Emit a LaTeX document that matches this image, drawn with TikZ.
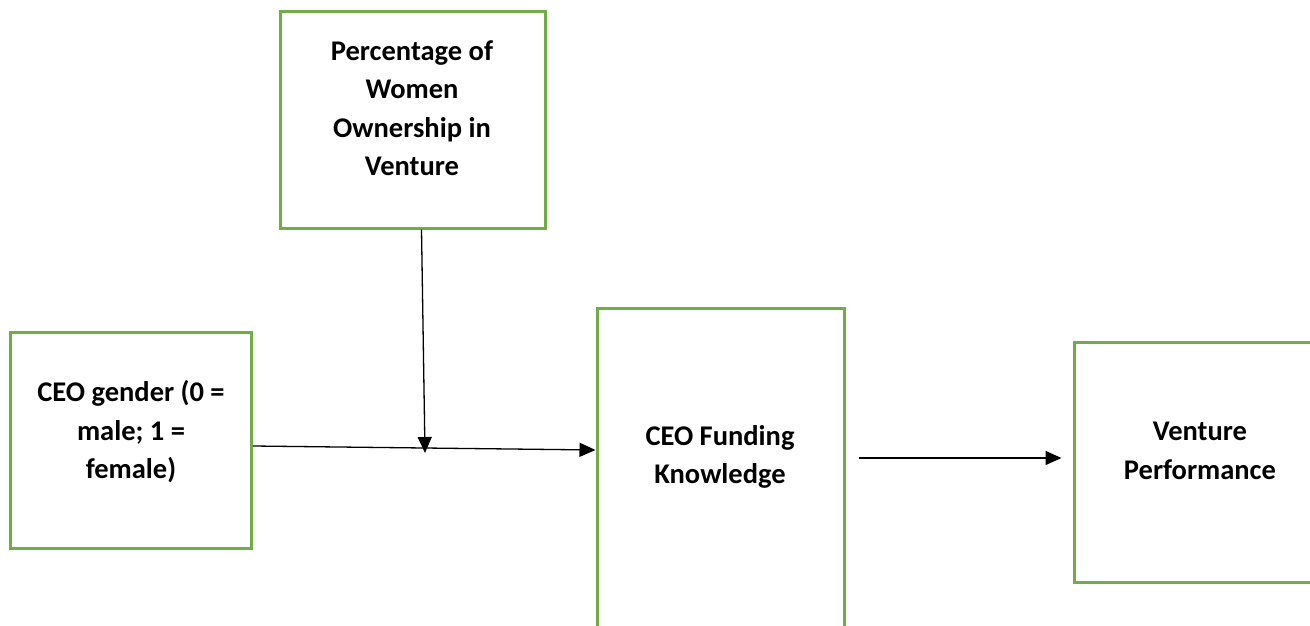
\documentclass[tikz,border=0pt]{standalone}
\usepackage{fontspec}
\setmainfont{Carlito}
\usetikzlibrary{arrows.meta}
\definecolor{boxgreen}{RGB}{112,173,71}
\begin{document}
\begin{tikzpicture}[x=1pt,y=-1pt,
  box/.style={draw=boxgreen,line width=3pt,rectangle,inner sep=0pt},
  label/.style={align=center,font=\fontsize{28.5}{38.5}\selectfont\bfseries,inner sep=0pt},
  arrow/.style={line width=1.3pt,-{Triangle[length=16pt,width=14pt]}}]
\useasboundingbox (0,0) rectangle (1310,626);
\clip (0,0) rectangle (1310,626);
% boxes
\node[box,minimum width=265pt,minimum height=216pt] (pct) at (412.5,120) {};
\node[box,minimum width=241pt,minimum height=216pt] (gender) at (131,440) {};
\node[box,minimum width=247pt,minimum height=340pt] (funding) at (720.5,478) {};
\node[box,minimum width=260pt,minimum height=240pt] (perf) at (1204,462) {};
% texts
\node[label] (pcttext) at (412,108) {Percentage of\\Women\\Ownership in\\Venture};
\node[label] (gendertext) at (131,432) {CEO gender (0 =\\male; 1 =\\female)};
\node[label] (fundingtext) at (720,457) {CEO Funding\\Knowledge};
\node[label] (perftext) at (1200,451) {Venture\\Performance};
% connectors
\coordinate (join) at (425,453);
\draw[arrow] ([yshift=-6pt]gender.east) -- ([yshift=28pt]funding.west);
\draw[arrow] ([xshift=9pt]pct.south) -- (join);
\draw[arrow,shorten <=13pt,shorten >=11pt] ([yshift=20pt]funding.east) -- ([yshift=4pt]perf.west);
\end{tikzpicture}
\end{document}
